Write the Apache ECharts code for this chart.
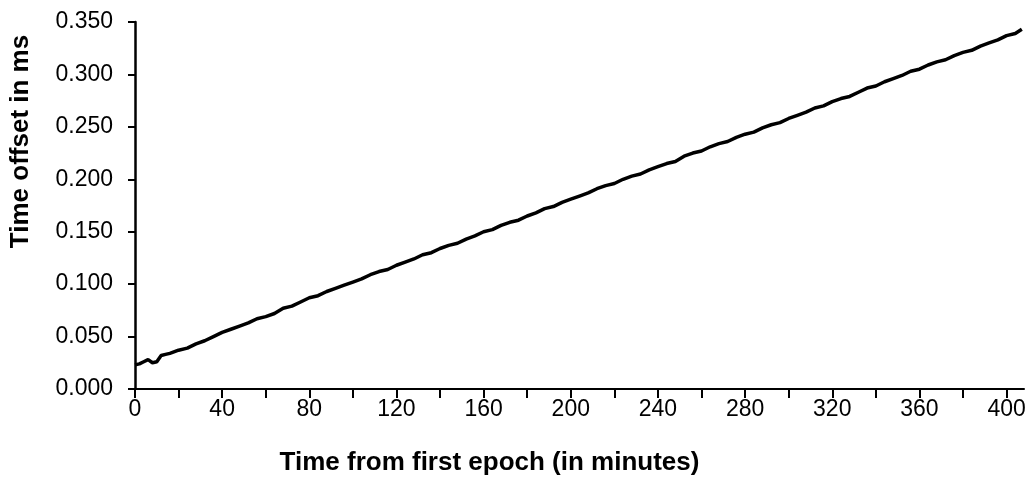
<!DOCTYPE html>
<html>
<head>
<meta charset="utf-8">
<script src="https://cdn.jsdelivr.net/npm/echarts@6/dist/echarts.min.js"></script>
<style>
  html, body { margin: 0; padding: 0; background: #fff; }
  #chart { width: 1034px; height: 494px; }
</style>
</head>
<body>
<div id="chart"></div>
<script>
// Elapsed time since the first epoch (minutes)
const minutes = [
  0, 2, 4, 6, 8, 10, 12, 14, 16, 20, 24, 28, 32, 36, 40, 44, 48, 52, 56, 60,
  64, 68, 72, 76, 80, 84, 88, 92, 96, 100, 104, 108, 112, 116, 120, 124, 128,
  132, 136, 140, 144, 148, 152, 156, 160, 164, 168, 172, 176, 180, 184, 188,
  192, 196, 200, 204, 208, 212, 216, 220, 224, 228, 232, 236, 240, 244, 248,
  252, 256, 260, 264, 268, 272, 276, 280, 284, 288, 292, 296, 300, 304, 308,
  312, 316, 320, 324, 328, 332, 336, 340, 344, 348, 352, 356, 360, 364, 368,
  372, 376, 380, 384, 388, 392, 396, 400, 404, 407
];
// Measured clock offset (ms)
const offsetMs = [
  0.023, 0.024, 0.026, 0.028, 0.025, 0.026, 0.032, 0.033, 0.034, 0.037, 0.039,
  0.043, 0.046, 0.050, 0.054, 0.057, 0.060, 0.063, 0.067, 0.069, 0.072, 0.077,
  0.079, 0.083, 0.087, 0.089, 0.093, 0.096, 0.099, 0.102, 0.105, 0.109, 0.112,
  0.114, 0.118, 0.121, 0.124, 0.128, 0.130, 0.134, 0.137, 0.139, 0.143, 0.146,
  0.150, 0.152, 0.156, 0.159, 0.161, 0.165, 0.168, 0.172, 0.174, 0.178, 0.181,
  0.184, 0.187, 0.191, 0.194, 0.196, 0.200, 0.203, 0.205, 0.209, 0.212, 0.215,
  0.217, 0.222, 0.225, 0.227, 0.231, 0.234, 0.236, 0.240, 0.243, 0.245, 0.249,
  0.252, 0.254, 0.258, 0.261, 0.264, 0.268, 0.270, 0.274, 0.277, 0.279, 0.283,
  0.287, 0.289, 0.293, 0.296, 0.299, 0.303, 0.305, 0.309, 0.312, 0.314, 0.318,
  0.321, 0.323, 0.327, 0.330, 0.333, 0.337, 0.339, 0.343
];
// Axis ticks and labels
const xTickValues = [0, 20, 40, 60, 80, 100, 120, 140, 160, 180, 200, 220, 240, 260, 280, 300, 320, 340, 360, 380, 400];
const xLabelValues = [0, 40, 80, 120, 160, 200, 240, 280, 320, 360, 400];
const yLabelValues = [0, 0.05, 0.1, 0.15, 0.2, 0.25, 0.3, 0.35];

const FONT = '"Liberation Sans", Arial, Helvetica, sans-serif';

const chart = echarts.init(document.getElementById('chart'), null, { renderer: 'canvas' });

chart.setOption({
  animation: false,
  backgroundColor: '#ffffff',
  grid: { left: 135, right: 10, top: 22, bottom: 105, containLabel: false },
  xAxis: {
    type: 'value',
    min: 0,
    max: 408,
    name: 'Time from first epoch (in minutes)',
    nameLocation: 'middle',
    nameGap: 61,
    nameTextStyle: {
      fontFamily: FONT, fontSize: 26, fontWeight: 'bold', color: '#000',
      padding: [0, 180, 0, 0]
    },
    axisLine: { show: true, onZero: false, lineStyle: { color: '#000', width: 2 } },
    axisTick: { show: true, inside: false, length: 9, customValues: xTickValues, lineStyle: { color: '#000', width: 2 } },
    axisLabel: {
      show: true, margin: 9, customValues: xLabelValues,
      fontFamily: FONT, fontSize: 23, color: '#000',
      formatter: v => String(v)
    },
    splitLine: { show: false }
  },
  yAxis: {
    type: 'value',
    min: 0,
    max: 0.35,
    interval: 0.05,
    name: 'Time offset in ms',
    nameLocation: 'middle',
    nameGap: 101,
    nameRotate: 90,
    nameTextStyle: {
      fontFamily: FONT, fontSize: 26, fontWeight: 'bold', color: '#000',
      padding: [0, 0, 0, 128]
    },
    axisLine: { show: true, lineStyle: { color: '#000', width: 2.5 } },
    axisTick: { show: true, inside: false, length: 7, customValues: yLabelValues, lineStyle: { color: '#000', width: 2 } },
    axisLabel: {
      show: true, margin: 22, customValues: yLabelValues,
      fontFamily: FONT, fontSize: 23, color: '#000',
      formatter: v => v.toFixed(3)
    },
    splitLine: { show: false }
  },
  series: [{
    type: 'line',
    data: minutes.map((m, i) => [m, offsetMs[i]]),
    showSymbol: false,
    smooth: false,
    lineStyle: { color: '#000', width: 3.5 },
    clip: false
  }]
});
</script>
</body>
</html>
